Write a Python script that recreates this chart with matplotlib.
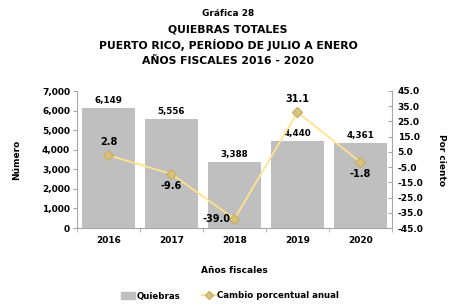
import matplotlib
matplotlib.use("Agg")
import matplotlib.pyplot as plt
from matplotlib.lines import Line2D
from matplotlib.patches import Patch

years = ["2016", "2017", "2018", "2019", "2020"]
quiebras = [6149, 5556, 3388, 4440, 4361]
cambio = [2.8, -9.6, -39.0, 31.1, -1.8]
left_ticks = [0, 1000, 2000, 3000, 4000, 5000, 6000, 7000]
right_ticks = [-45.0, -35.0, -25.0, -15.0, -5.0, 5.0, 15.0, 25.0, 35.0, 45.0]

plt.rcParams['font.family'] = ['DejaVu Sans']
bar_color = '#BFBFBF'
line_color = '#FFE38A'
marker_color = '#D9C27A'
axis_color = '#A6A6A6'

fig = plt.figure(figsize=(4.56, 3.08), dpi=100)
ax = fig.add_axes([77/456, 80/308, 315/456, 137/308])
x = list(range(len(years)))
ax.bar(x, quiebras, width=0.83, color=bar_color, zorder=1)
ax.set_xlim(-0.5, 4.5)
ax.set_ylim(0, 7000)
ax.set_yticks(left_ticks)
ax.set_yticklabels([f"{v:,}" for v in left_ticks], fontsize=6.5, fontweight='bold')
ax.set_xticks(x)
ax.set_xticklabels(years, fontsize=6.5, fontweight='bold')
ax.set_xticks([i - 0.5 for i in range(len(years) + 1)], minor=True)
ax.tick_params(axis='x', which='major', length=0, pad=6)
ax.tick_params(axis='x', which='minor', length=3, color=axis_color)
ax.tick_params(axis='y', length=3, color=axis_color, pad=2)
for s in ['top', 'right']:
    ax.spines[s].set_visible(False)
for s in ['left', 'bottom']:
    ax.spines[s].set_color(axis_color)
for xi, v in zip(x, quiebras):
    ax.text(xi, v + 150, f"{v:,}", ha='center', va='bottom', fontsize=6.3, fontweight='bold')
ax.set_ylabel("Número", fontsize=6.5, fontweight='bold', labelpad=15)
ax.set_xlabel("Años fiscales", fontsize=6.5, fontweight='bold', labelpad=15)

ax2 = ax.twinx()
ax2.set_ylim(-45, 45)
ax2.set_yticks(right_ticks)
ax2.set_yticklabels([f"{v:.1f}" for v in right_ticks], fontsize=6.5, fontweight='bold')
ax2.tick_params(axis='y', length=3, direction='in', color=axis_color, pad=4)
for s in ['top', 'left', 'bottom']:
    ax2.spines[s].set_visible(False)
ax2.spines['right'].set_color(axis_color)
ax2.plot(x, cambio, color=line_color, linewidth=1.3, marker='D', markersize=5,
         markerfacecolor=marker_color, markeredgecolor='#C8B26A', zorder=3)
offsets = [(0, 6, 'center', 'bottom'), (0, -5, 'center', 'top'), (-3, 0, 'right', 'center'),
           (0, 6, 'center', 'bottom'), (0, -5, 'center', 'top')]
for xi, v, (dx, dy, ha, va) in zip(x, cambio, offsets):
    ax2.annotate(f"{v:.1f}", (xi, v), xytext=(dx, dy), textcoords='offset points',
                 ha=ha, va=va, fontsize=7, fontweight='bold')
ax2.set_ylabel("Por ciento", fontsize=6.5, fontweight='bold', rotation=270, labelpad=16)

fig.text(0.5, 1 - 13/308, "Gráfica 28", ha='center', va='center', fontsize=6.5, fontweight='bold')
fig.text(0.5, 1 - 29/308, "QUIEBRAS TOTALES", ha='center', va='center', fontsize=7.8, fontweight='bold')
fig.text(0.5, 1 - 45/308, "PUERTO RICO, PERÍODO DE JULIO A ENERO", ha='center', va='center', fontsize=7.8, fontweight='bold')
fig.text(0.5, 1 - 61/308, "AÑOS FISCALES 2016 - 2020", ha='center', va='center', fontsize=7.8, fontweight='bold')

handles = [Patch(color=bar_color, label='Quiebras'),
           Line2D([], [], color=line_color, marker='D', markersize=4, markerfacecolor=marker_color,
                  markeredgecolor='#C8B26A', label='Cambio porcentual anual')]
fig.legend(handles=handles, loc='center', bbox_to_anchor=(0.505, 1 - 296/308), ncol=2, frameon=False,
           prop={'size': 6.2, 'weight': 'bold'}, handlelength=1.6, handletextpad=0.2, columnspacing=2.5)

fig.savefig("out.png", dpi=100)
